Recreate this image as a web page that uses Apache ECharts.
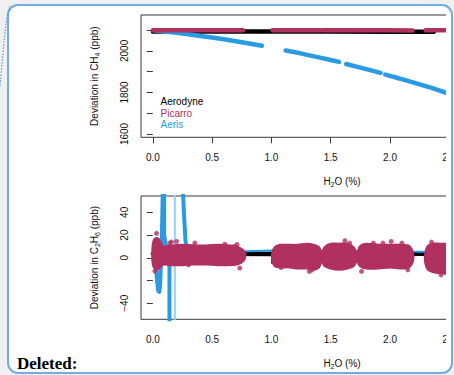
<!DOCTYPE html>
<html>
<head>
<meta charset="utf-8">
<script src="https://cdn.jsdelivr.net/npm/echarts@6/dist/echarts.min.js"></script>
<style>
  html, body { margin: 0; padding: 0; width: 454px; height: 375px; overflow: hidden; background: #f0f0f0; }
  #panel { position: absolute; left: 7px; top: 4px; width: 442px; height: 366px;
           border: 2px solid #6fade4; border-radius: 11px; background: #fff; }
  #clip { position: absolute; left: 0; top: 0; width: 446px; height: 375px; overflow: hidden; }
  #chart { position: absolute; left: 0; top: 0; width: 600px; height: 375px; }
  #deleted { position: absolute; left: 17px; top: 355px; font: bold 17px/17px "Liberation Serif", "Times New Roman", serif; color: #000; }
</style>
</head>
<body>
<div id="panel"></div>
<div id="clip"><div id="chart"></div></div>
<div id="deleted">Deleted:</div>
<script>
// ---- axis ticks ----
const xTicks = [0, 0.5, 1, 1.5, 2, 2.5, 3];
const ch4Ticks = [1600, 1700, 1800, 1900, 2000, 2100];
const ch4Labels = [1600, 1800, 2000];
const c2h6Ticks = [-40, -20, 0, 20, 40];
const c2h6Labels = [-40, 0, 20, 40];

// ---- CH4 deviation vs H2O ----
const aerodyneCH4X = [0.00, 0.50, 1.00, 1.50, 2.00, 2.37];
const aerodyneCH4  = [2094, 2093, 2093, 2093, 2092, 2092];

const picarroCH4X = [0.00, 0.38, 0.76, null, 1.01, 1.21, 1.41, null, 1.43, 1.58, 1.72, null, 1.73, 1.96, 2.19, null, 2.30, 2.48, 2.66];
const picarroCH4  = [2099, 2099, 2099, null, 2099, 2099, 2099, null, 2099, 2099, 2099, null, 2099, 2099, 2098, null, 2099, 2099, 2099];

const aerisCH4X = [0.02, 0.10, 0.20, 0.30, 0.40, 0.50, 0.60, 0.70, 0.80, 0.92, null,
                   1.12, 1.20, 1.30, 1.40, 1.50, 1.57, null,
                   1.63, 1.70, 1.80, 1.92, null,
                   1.96, 2.05, 2.15, 2.25, 2.35, 2.46, 2.60];
const aerisCH4  = [2098, 2094, 2087, 2080, 2072, 2065, 2056, 2047, 2037, 2025, null,
                   2002, 1994, 1981, 1969, 1956, 1947, null,
                   1937, 1927, 1912, 1894, null,
                   1886, 1872, 1856, 1839, 1822, 1801, 1777];

// ---- C2H6 deviation vs H2O ----
const aerodyneC2H6X = [0.00, 0.50, 1.00, 1.50, 2.00, 2.35];
const aerodyneC2H6  = [3.5, 3.5, 3.4, 3.5, 3.6, 3.5];

// Aeris: large swings at low humidity, then a flat trace just above zero
const aerisSwingX = [0.000, 0.025, 0.035, 0.045, 0.055, 0.062, 0.070, 0.078, 0.085, 0.095, 0.095, 0.140, 0.140, null,
                     0.250, 0.262, 0.275, 0.290];
const aerisSwing  = [3, -2, -20, -29, -30, -22, 0, 30, 65, 65, 20, -8, -65, null,
                     65, 40, 15, 6];
const aerisFlatX = [0.29, 0.50, 1.00, 1.50, 2.00, 2.60];
const aerisFlat  = [6, 5, 6.5, 6, 5.5, 5];
// steep crossing near 0.185 %
const aerisJumpX = [0.185, 0.185];
const aerisJump  = [-65, 65];

// Picarro cloud envelopes (upper / lower edge), clusters separated by null
const picarroCloudX    = [0.00, 0.01, 0.03, 0.05, 0.07, 0.09, 0.15, 0.25, 0.35, 0.45, 0.55, 0.65, 0.72, 0.77, null,
                          1.01, 1.03, 1.08, 1.15, 1.22, 1.30, 1.36, 1.40, 1.415, null,
                          1.43, 1.45, 1.50, 1.57, 1.64, 1.69, 1.715, null,
                          1.73, 1.75, 1.80, 1.90, 2.00, 2.10, 2.16, 2.19, null,
                          2.30, 2.32, 2.36, 2.42, 2.50, 2.66];
const picarroCloudHigh = [8, 15, 17, 16, 12, 9.5, 10.5, 11, 10.5, 10.5, 11, 10.5, 9, 5, null,
                          4, 9, 11, 11, 11, 12, 11, 9, 4, null,
                          3, 9, 12, 12, 12, 9, 3, null,
                          4, 10, 12, 11, 11, 11, 10, 4, null,
                          3, 10, 12, 12, 12, 12];
const picarroCloudLow  = [-3, -8, -10, -9, -7, -5.5, -6, -6, -5.5, -5.5, -6, -6, -5, -1, null,
                          -2, -7, -8, -8, -9, -9, -10, -8, -3, null,
                          -2, -7, -9, -10, -9, -7, -2, null,
                          -3, -7, -9, -9, -8, -9, -8, -3, null,
                          -4, -10, -12, -13, -14, -14];
// scattered Picarro points around the clouds
const picarroDotsX = [0.031, 0.017, 0.143, 0.157, 0.20, 0.354, 0.607, 0.69, 0.71, 0.30, 0.733,
                      1.08, 1.32, 1.34, 1.62, 1.66, 1.76, 1.86, 1.94, 2.01, 2.10, 2.15, 2.35, 2.43];
const picarroDots  = [21.5, -11.7, 13, 14, 14.4, 13, 12, 10, 11.8, -6.2, -9,
                      -8.5, -12, -10.8, 15, 13, -12, 13, 13, 14.4, 13, -10.6, 13.8, -15];

// ---- styling ----
const FONT = '"Liberation Sans", Arial, Helvetica, sans-serif';
const MAROON = '#B03060';
const BLUE = '#2A9BE2';
const LIGHTBLUE = '#9ACDF2';
const AXIS = '#3a3a3a';
const TEXT = '#111';

const pairs = (xs, ys) => xs.map((x, i) => [x, ys[i]]);

function splitClouds(xs, hi, lo) {
  const out = [];
  let cur = { x: [], hi: [], lo: [] };
  xs.forEach((x, i) => {
    if (x === null) { out.push(cur); cur = { x: [], hi: [], lo: [] }; return; }
    cur.x.push(x); cur.hi.push(hi[i]); cur.lo.push(lo[i]);
  });
  out.push(cur);
  return out;
}
const clouds = splitClouds(picarroCloudX, picarroCloudHigh, picarroCloudLow);

const subRich = {
  sub: { fontSize: 7, fontFamily: FONT, color: TEXT, verticalAlign: 'bottom', lineHeight: 8 }
};

function xAxisCfg(gridIndex) {
  return {
    type: 'value', gridIndex, min: -0.1, max: 3.29,
    name: 'H{sub|2}O (%)', nameLocation: 'middle', nameGap: 38,
    nameTextStyle: { fontSize: 10, fontFamily: FONT, color: TEXT, lineHeight: 13, rich: subRich },
    axisLine: { show: false },
    splitLine: { show: false },
    axisTick: { show: true, length: 6, customValues: xTicks, lineStyle: { color: AXIS, width: 1 } },
    axisLabel: { customValues: xTicks, margin: 15, fontSize: 10, fontFamily: FONT, color: TEXT,
                 formatter: v => v.toFixed(1) }
  };
}
function yAxisCfg(gridIndex, min, max, ticks, labels, title) {
  return {
    type: 'value', gridIndex, min, max,
    name: title, nameLocation: 'middle', nameGap: 40,
    nameTextStyle: { fontSize: 10, fontFamily: FONT, color: TEXT, lineHeight: 13, rich: subRich },
    axisLine: { show: false },
    splitLine: { show: false },
    axisTick: { show: true, length: 6, customValues: ticks, lineStyle: { color: AXIS, width: 1 } },
    axisLabel: { customValues: labels, rotate: 90, margin: 12, fontSize: 10, fontFamily: FONT, color: TEXT,
                 formatter: v => (v < 0 ? '\u2212' + Math.abs(v) : String(v)) }
  };
}

const lineBase = { type: 'line', showSymbol: false, symbol: 'none', connectNulls: false, silent: true, animation: false, z: 2 };

const chart = echarts.init(document.getElementById('chart'), null, { renderer: 'svg' });
chart.setOption({
  animation: false,
  textStyle: { fontFamily: FONT },
  grid: [
    { left: 141, top: 15, width: 402, height: 122.3, show: true, borderColor: AXIS, borderWidth: 1, backgroundColor: 'transparent' },
    { left: 141, top: 196, width: 402, height: 123.3, show: true, borderColor: AXIS, borderWidth: 1, backgroundColor: 'transparent' }
  ],
  xAxis: [xAxisCfg(0), xAxisCfg(1)],
  yAxis: [
    yAxisCfg(0, 1584, 2173, ch4Ticks, ch4Labels, 'Deviation in CH{sub|4} (ppb)'),
    yAxisCfg(1, -54.1, 54.4, c2h6Ticks, c2h6Labels, 'Deviation in C{sub|2}H{sub|6} (ppb)')
  ],
  legend: {
    left: 155.5, top: 96, orient: 'vertical', padding: 0, itemGap: 0,
    itemWidth: 0, itemHeight: 0, icon: 'none', selectedMode: false,
    textStyle: { fontSize: 10, fontFamily: FONT, lineHeight: 11.5 },
    data: [
      { name: 'Aerodyne', textStyle: { color: '#000' } },
      { name: 'Picarro', textStyle: { color: MAROON } },
      { name: 'Aeris', textStyle: { color: BLUE } }
    ]
  },
  graphic: [{
    type: 'polyline', silent: true, z: 50,
    shape: { points: [[10, 6], [7, 17], [5, 33], [3.3, 50], [1.7, 67], [0, 87]], smooth: 0.4 },
    style: { stroke: '#5b9bd5', lineWidth: 1.2, lineDash: [1.5, 1.5], fill: null }
  }],
  series: [
    // CH4 panel
    Object.assign({}, lineBase, { name: 'Aerodyne', xAxisIndex: 0, yAxisIndex: 0, data: pairs(aerodyneCH4X, aerodyneCH4),
      lineStyle: { color: '#000', width: 4.5, cap: 'round' }, itemStyle: { color: '#000' } }),
    Object.assign({}, lineBase, { name: 'Aeris', xAxisIndex: 0, yAxisIndex: 0, data: pairs(aerisCH4X, aerisCH4),
      lineStyle: { color: BLUE, width: 4.5, cap: 'round' }, itemStyle: { color: BLUE } }),
    Object.assign({}, lineBase, { name: 'Picarro', xAxisIndex: 0, yAxisIndex: 0, data: pairs(picarroCH4X, picarroCH4), z: 3,
      lineStyle: { color: MAROON, width: 4.5, cap: 'round' }, itemStyle: { color: MAROON } }),
    // C2H6 panel
    Object.assign({}, lineBase, { name: 'Aerodyne', xAxisIndex: 1, yAxisIndex: 1, data: pairs(aerodyneC2H6X, aerodyneC2H6),
      lineStyle: { color: '#000', width: 4.5, cap: 'round' }, itemStyle: { color: '#000' } }),
    Object.assign({}, lineBase, { name: 'Aeris', xAxisIndex: 1, yAxisIndex: 1, data: pairs(aerisJumpX, aerisJump),
      lineStyle: { color: LIGHTBLUE, width: 2 }, itemStyle: { color: LIGHTBLUE } }),
    Object.assign({}, lineBase, { name: 'Aeris', xAxisIndex: 1, yAxisIndex: 1, data: pairs(aerisSwingX, aerisSwing),
      lineStyle: { color: BLUE, width: 4, cap: 'round', join: 'round' }, itemStyle: { color: BLUE } }),
    Object.assign({}, lineBase, { name: 'Aeris', xAxisIndex: 1, yAxisIndex: 1, data: pairs(aerisFlatX, aerisFlat),
      lineStyle: { color: BLUE, width: 2 }, itemStyle: { color: BLUE } }),
    {
      name: 'Picarro', type: 'custom', xAxisIndex: 1, yAxisIndex: 1, silent: true, animation: false, z: 5,
      itemStyle: { color: MAROON },
      data: clouds.map(c => [c.x[0], c.hi[0]]),
      renderItem: (params, api) => {
        const c = clouds[params.dataIndex];
        const pts = [];
        c.x.forEach((x, i) => pts.push(api.coord([x, c.hi[i]])));
        for (let i = c.x.length - 1; i >= 0; i--) pts.push(api.coord([c.x[i], c.lo[i]]));
        return { type: 'polygon', shape: { points: pts, smooth: 0.3 },
                 style: { fill: MAROON, stroke: MAROON, lineWidth: 3, lineJoin: 'round' } };
      }
    },
    { name: 'Picarro', type: 'scatter', xAxisIndex: 1, yAxisIndex: 1, silent: true, animation: false, z: 6,
      symbolSize: 5, data: pairs(picarroDotsX, picarroDots), itemStyle: { color: MAROON } }
  ]
});
</script>
</body>
</html>
